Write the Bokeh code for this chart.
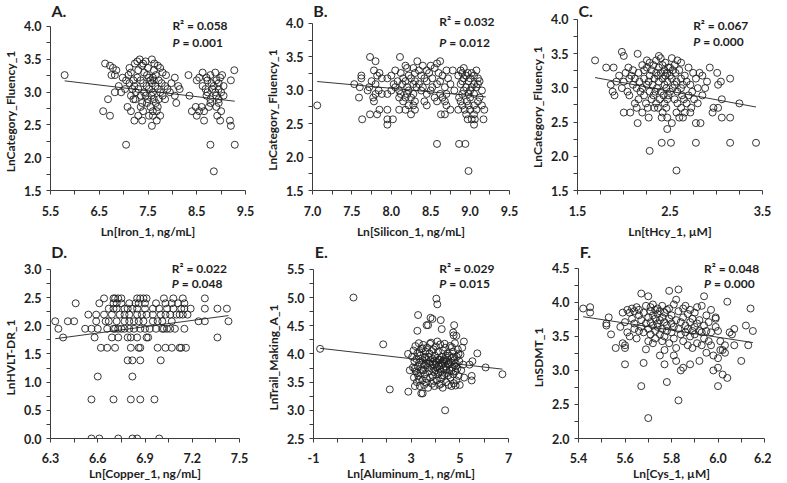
from bokeh.plotting import figure
from bokeh.layouts import row, column
from bokeh.models import Range1d, FixedTicker, PrintfTickFormatter, Label
from bokeh.embed import file_html
from bokeh.resources import INLINE

FONT = "Lato"
INK = "#1e1e1e"
NB = "\u00a0"

# ---------------- Panel A: Ln[Iron_1] vs LnCategory_Fluency_1 (bands of y) -------------
iron_bands = [
    (3.497, [7.33, 7.58]),
    (3.466, [7.28, 7.45]),
    (3.434, [6.62, 7.23, 7.40, 7.63]),
    (3.401, [6.72, 7.38, 7.70]),
    (3.367, [6.78, 7.12, 7.50, 7.75]),
    (3.332, [6.85, 7.30, 7.62, 9.27]),
    (3.296, [7.15, 7.42, 7.80, 8.62, 8.88]),
    (3.258, [5.79, 6.75, 6.82, 7.10, 7.48, 7.66, 7.87, 8.33, 8.78, 9.02]),
    (3.219, [6.98, 7.28, 7.52, 7.60, 8.05, 8.55, 8.70, 8.98]),
    (3.178, [7.05, 7.20, 7.35, 7.55, 7.62, 7.72, 8.50, 8.72, 8.90, 9.20]),
    (3.135, [7.12, 7.40, 7.58, 7.78, 7.98, 8.80, 8.95]),
    (3.091, [6.90, 7.22, 7.47, 7.65, 7.85, 8.12, 8.62, 8.85, 9.05]),
    (3.045, [7.03, 7.18, 7.30, 7.52, 7.70, 7.90, 8.15, 8.68, 8.82, 8.95]),
    (2.996, [6.82, 6.95, 7.25, 7.42, 7.60, 7.75, 7.95, 8.72, 8.88, 9.00]),
    (2.944, [7.15, 7.35, 7.45, 7.57, 7.80, 8.05, 8.35, 8.70, 8.90, 9.05]),
    (2.890, [6.68, 7.20, 7.24, 7.50, 7.62, 7.72, 7.85, 8.78, 8.95]),
    (2.833, [7.38, 7.48, 7.66, 8.08, 8.78, 8.95]),
    (2.773, [7.08, 7.35, 7.55, 7.70, 8.48, 8.60, 8.75, 8.90]),
    (2.708, [6.58, 7.15, 7.40, 7.60, 7.68, 8.40, 8.55, 8.65, 9.00]),
    (2.639, [6.72, 7.30, 7.52, 7.60, 7.75, 8.50, 8.92]),
    (2.565, [7.22, 7.38, 7.68, 8.65, 8.98, 9.18]),
    (2.485, [7.58, 9.20]),
    (2.197, [7.05, 8.78, 9.28]),
    (1.792, [8.85]),
]
iron_fit_x = [5.79, 9.28]
iron_fit_y = [3.17, 2.86]

# ---------------- Panel B: Ln[Silicon_1] -------------
silicon_bands = [
    (3.497, [7.73, 8.11]),
    (3.434, [7.80, 8.33, 8.62]),
    (3.401, [8.58]),
    (3.367, [8.18, 8.40, 8.50]),
    (3.332, [8.20, 8.28, 8.55, 8.92]),
    (3.296, [7.78, 8.05, 8.35, 8.45, 8.70, 8.78, 8.88, 9.08]),
    (3.258, [7.85, 8.12, 8.30, 8.48, 8.60, 8.90, 8.97, 9.02]),
    (3.219, [7.62, 7.82, 8.00, 8.22, 8.38, 8.65, 8.85, 8.95, 9.05]),
    (3.178, [7.62, 7.88, 7.95, 8.15, 8.25, 8.42, 8.52, 8.72, 8.92, 9.00, 9.10]),
    (3.135, [7.75, 8.08, 8.18, 8.30, 8.45, 8.62, 8.90, 8.98, 9.12]),
    (3.091, [7.53, 7.80, 8.03, 8.14, 8.28, 8.35, 8.58, 8.75, 8.88, 9.05, 9.10]),
    (3.045, [7.60, 7.72, 8.05, 8.20, 8.32, 8.40, 8.52, 8.68, 8.95, 9.02, 9.08]),
    (2.996, [7.70, 7.84, 8.00, 8.10, 8.22, 8.38, 8.50, 8.80, 8.92, 9.00, 9.15]),
    (2.944, [7.80, 7.88, 7.95, 8.12, 8.20, 8.28, 8.45, 8.62, 8.70, 8.90, 8.98, 9.05]),
    (2.890, [7.59, 7.77, 8.10, 8.18, 8.25, 8.55, 8.65, 8.86, 9.00, 9.12]),
    (2.833, [7.78, 8.15, 8.30, 8.42, 8.58, 8.68, 8.88, 8.96, 9.10]),
    (2.773, [7.06, 8.22, 8.28, 8.45, 8.70, 8.90, 8.98, 9.05, 9.15]),
    (2.708, [7.85, 7.95, 8.10, 8.18, 8.30, 8.75, 8.85, 8.93, 9.00, 9.08, 9.18]),
    (2.639, [7.73, 7.82, 8.25, 8.63, 8.68, 8.95, 9.05]),
    (2.565, [7.63, 7.95, 8.02, 8.97, 9.02, 9.06, 9.17]),
    (2.485, [7.95, 9.05]),
    (2.197, [8.58, 8.86, 8.94]),
    (1.792, [8.98]),
]
silicon_fit_x = [7.06, 9.20]
silicon_fit_y = [3.13, 2.90]

# ---------------- Panel C: Ln[tHcy_1] -------------
thcy_bands = [
    (3.526, [1.98]),
    (3.497, [2.15]),
    (3.466, [2.00, 2.38]),
    (3.434, [2.40, 2.52]),
    (3.401, [1.69, 2.25, 2.35, 2.58]),
    (3.367, [2.28, 2.45, 2.62]),
    (3.332, [2.20, 2.32, 2.42, 2.55]),
    (3.296, [1.81, 1.89, 2.05, 2.25, 2.38, 2.48, 2.50, 2.70, 2.93]),
    (3.258, [2.10, 2.22, 2.30, 2.44, 2.53, 2.60]),
    (3.219, [2.02, 2.16, 2.35, 2.40, 2.47, 2.56, 2.75, 2.82, 3.01]),
    (3.178, [1.95, 2.08, 2.28, 2.37, 2.45, 2.50, 2.66, 2.85]),
    (3.135, [2.06, 2.12, 2.22, 2.33, 2.42, 2.52, 2.62, 2.78, 3.15]),
    (3.091, [1.92, 2.00, 2.17, 2.27, 2.38, 2.47, 2.57, 2.68, 2.90, 3.05]),
    (3.045, [1.86, 2.10, 2.25, 2.31, 2.44, 2.55, 2.64, 2.72, 3.02]),
    (2.996, [1.98, 2.14, 2.20, 2.36, 2.46, 2.53, 2.62, 2.80, 2.88]),
    (2.944, [1.88, 2.04, 2.18, 2.28, 2.34, 2.40, 2.50, 2.58, 2.74]),
    (2.890, [1.90, 2.06, 2.22, 2.32, 2.43, 2.48, 2.63, 2.70, 2.85]),
    (2.833, [2.16, 2.30, 2.39, 2.47, 2.55, 2.65, 2.76, 3.06]),
    (2.773, [2.12, 2.24, 2.35, 2.44, 2.58, 2.68, 2.80, 3.25]),
    (2.708, [2.14, 2.26, 2.33, 2.37, 2.46, 2.62, 2.73, 2.97, 3.02]),
    (2.639, [2.00, 2.07, 2.20, 2.42, 2.57, 2.66, 2.72, 2.96]),
    (2.565, [2.27, 2.41, 2.47, 2.60, 2.64, 3.06, 3.15]),
    (2.485, [2.15, 2.52, 2.78, 2.83]),
    (2.398, [2.47]),
    (2.197, [2.41, 2.51, 2.78, 3.15, 3.43]),
    (2.079, [2.28]),
    (1.792, [2.57]),
]
thcy_fit_x = [1.69, 3.43]
thcy_fit_y = [3.15, 2.72]

# ---------------- Panel D: Ln[Copper_1] vs LnHVLT-DR_1 -------------
copper_bands = [
    (0.000, [6.56, 6.61, 6.73, 6.82, 6.85, 6.99]),
    (0.693, [6.56, 6.70, 6.81, 6.87, 6.96]),
    (1.099, [6.60, 6.82]),
    (1.386, [6.79, 6.82, 6.87, 7.00]),
    (1.609, [6.62, 6.66, 6.71, 6.81, 6.86, 6.87, 6.98, 7.03, 7.07, 7.12, 7.13, 7.16]),
    (1.792, [6.38, 6.58, 6.69, 6.73, 6.79, 6.81, 6.85, 6.91, 6.92, 7.36]),
    (1.946, [6.35, 6.52, 6.56, 6.60, 6.66, 6.70, 6.71, 6.73, 6.75, 6.77, 6.80, 6.83, 6.87,
             6.90, 6.93, 6.97, 7.01, 7.02, 7.04, 7.06, 7.09, 7.15]),
    (2.079, [6.33, 6.41, 6.45, 6.59, 6.65, 6.67, 6.72, 6.77, 6.80, 6.83, 6.86, 6.89, 6.95,
             6.98, 7.01, 7.07, 7.24, 7.28, 7.43]),
    (2.197, [6.54, 6.59, 6.64, 6.69, 6.74, 6.77, 6.80, 6.85, 6.88, 6.91, 6.95, 7.00, 7.03,
             7.06, 7.10, 7.12, 7.14, 7.17]),
    (2.303, [6.67, 6.70, 6.72, 6.77, 6.79, 6.82, 6.85, 6.90, 6.95, 6.99, 7.04, 7.08, 7.13,
             7.15, 7.19, 7.28, 7.36, 7.42]),
    (2.398, [6.46, 6.61, 6.70, 6.72, 6.75, 6.80, 6.84, 6.86, 6.90, 6.97, 7.03, 7.07, 7.11, 7.15]),
    (2.485, [6.64, 6.70, 6.71, 6.73, 6.75, 6.85, 6.87, 6.89, 6.91, 7.02, 7.08, 7.14, 7.28]),
]
copper_fit_x = [6.33, 7.43]
copper_fit_y = [1.77, 2.18]

# ---------------- Panel E: Ln[Aluminum_1] vs LnTrail_Making_A_1 -------------
aluminum_x = [
    -0.73, 0.64, 1.86, 2.13, 2.89, 2.88, 2.95, 3.42, 3.48, 4.40, 4.04, 4.08, 3.29, 3.80,
    3.88, 3.64, 3.70, 4.22, 4.26, 4.77, 4.73, 4.75, 4.86, 3.26, 5.17, 5.72, 6.06, 6.75,
    5.49, 5.49, 5.52, 5.40,
    3.05, 3.08, 3.10, 3.12, 3.14, 3.16, 3.18, 3.20, 3.22, 3.24, 3.26, 3.28, 3.30, 3.32,
    3.34, 3.36, 3.38, 3.40, 3.42, 3.44, 3.46, 3.48, 3.50, 3.52, 3.54, 3.56, 3.58, 3.60,
    3.62, 3.64, 3.66, 3.68, 3.70, 3.72, 3.74, 3.76, 3.78, 3.80, 3.82, 3.84, 3.86, 3.88,
    3.90, 3.92, 3.94, 3.96, 3.98, 4.00, 4.02, 4.04, 4.06, 4.08, 4.10, 4.12, 4.14, 4.16,
    4.18, 4.20, 4.22, 4.24, 4.26, 4.28, 4.30, 4.32, 4.34, 4.36, 4.38, 4.40, 4.42, 4.44,
    4.46, 4.48, 4.50, 4.52, 4.54, 4.56, 4.58, 4.60, 4.62, 4.64, 4.66, 4.68, 4.70, 4.72,
    4.74, 4.76, 4.78, 4.80, 4.82, 4.84, 4.86, 4.88, 4.90, 4.92, 4.95, 4.98, 5.00, 5.03,
    5.06, 5.10, 5.14, 5.18,
    3.15, 3.25, 3.35, 3.45, 3.55, 3.65, 3.75, 3.85, 3.95, 4.05, 4.15, 4.25, 4.35, 4.45,
    4.55, 4.65, 4.75, 4.85, 4.95, 3.33, 3.63, 3.93, 4.23, 4.53, 4.83, 3.48, 3.78, 4.08,
    4.38, 4.68, 3.58, 3.88, 4.18, 4.48, 4.78, 4.28, 4.33, 4.43, 4.13, 3.98,
]
trail_y = [
    4.09, 5.00, 4.17, 3.37, 3.33, 4.00, 3.71, 3.30, 3.30, 3.00, 4.98, 4.88, 4.69, 4.64,
    4.62, 4.51, 4.51, 4.60, 4.44, 4.51, 4.38, 4.33, 4.32, 4.41, 4.22, 4.01, 3.76, 3.64,
    3.53, 3.61, 3.87, 3.81,
    3.95, 3.76, 4.06, 3.58, 3.87, 3.43, 4.14, 3.69, 3.91, 3.50, 4.01, 3.78, 3.61, 4.19,
    3.85, 3.43, 3.97, 3.66, 4.09, 3.81, 3.53, 3.89, 4.16, 3.71, 3.45, 3.93, 3.64, 4.04,
    3.83, 3.56, 4.11, 3.76, 3.40, 3.95, 3.69, 4.01, 3.58, 3.87, 4.20, 3.74, 3.47, 3.91,
    3.61, 4.08, 3.81, 3.43, 3.97, 3.71, 4.13, 3.85, 3.53, 3.93, 3.64, 4.04, 3.78, 3.45,
    3.89, 4.17, 3.69, 3.56, 3.95, 3.83, 3.40, 4.06, 3.74, 3.61, 3.91, 4.11, 3.78, 3.50,
    3.87, 3.66, 4.01, 3.81, 3.45, 3.97, 3.71, 4.14, 3.58, 3.85, 3.43, 3.93, 3.76, 4.04,
    3.64, 3.48, 3.89, 4.19, 3.69, 3.83, 3.53, 3.95, 3.74, 4.08, 3.61, 3.87, 3.45, 3.99,
    3.71, 4.11, 3.81, 3.58,
    3.74, 3.66, 4.03, 3.72, 3.80, 3.89, 3.83, 4.05, 3.68, 3.76, 3.90, 3.80, 3.86, 3.72,
    3.84, 3.70, 3.95, 3.78, 4.00, 3.55, 3.49, 3.52, 3.47, 3.62, 3.44, 4.10, 4.18, 4.22,
    4.18, 4.12, 3.95, 3.82, 3.73, 3.93, 3.80, 3.62, 3.88, 3.97, 3.67, 3.88,
]
aluminum_fit_x = [-0.73, 6.75]
aluminum_fit_y = [4.10, 3.73]

# ---------------- Panel F: Ln[Cys_1] vs LnSDMT_1 -------------
cys_x = [
    5.42, 5.45, 5.45, 5.52, 5.52, 5.53, 5.54, 5.56, 5.58, 5.59, 5.60, 5.60, 5.60, 5.59,
    5.61, 5.60, 5.61, 5.62, 5.62, 5.63, 5.63, 5.64, 5.64, 5.64, 5.65, 5.65, 5.66, 5.66,
    5.66, 5.67, 5.67, 5.67, 5.67, 5.68, 5.68, 5.68, 5.69, 5.69, 5.69, 5.70, 5.70, 5.70,
    5.70, 5.70, 5.71, 5.71, 5.71, 5.71, 5.72, 5.72, 5.72, 5.72, 5.73, 5.73, 5.73, 5.73,
    5.74, 5.74, 5.74, 5.74, 5.75, 5.75, 5.75, 5.75, 5.76, 5.76, 5.76, 5.76, 5.77, 5.77,
    5.77, 5.77, 5.77, 5.78, 5.78, 5.78, 5.78, 5.79, 5.79, 5.79, 5.79, 5.80, 5.80, 5.80,
    5.81, 5.81, 5.81, 5.81, 5.82, 5.82, 5.82, 5.82, 5.83, 5.83, 5.83, 5.83, 5.84, 5.84,
    5.84, 5.85, 5.85, 5.85, 5.85, 5.86, 5.86, 5.86, 5.87, 5.87, 5.87, 5.88, 5.88, 5.88,
    5.88, 5.89, 5.89, 5.89, 5.90, 5.90, 5.90, 5.91, 5.91, 5.91, 5.92, 5.92, 5.92, 5.93,
    5.93, 5.93, 5.94, 5.94, 5.94, 5.95, 5.95, 5.95,
    5.96, 5.96, 5.97, 5.97, 5.97, 5.98, 5.98, 5.99, 5.99, 5.99, 6.00, 6.00, 6.00, 6.00,
    6.01, 6.01, 6.02, 6.02, 6.03, 6.03, 6.04, 6.04, 6.05, 6.06, 6.07, 6.07, 6.10, 6.12,
    6.13, 6.14, 6.15,
]
sdmt_y = [
    3.91, 3.93, 3.85, 3.69, 3.66, 3.78, 3.53, 3.33, 3.64, 3.40, 3.37, 3.33, 3.09, 3.85,
    3.89, 3.71, 3.56, 3.85, 3.50, 3.76, 3.91, 3.87, 3.69, 3.61, 3.93, 3.47, 3.81, 3.58,
    3.89, 3.74, 3.64, 4.13, 2.77, 3.11, 3.85, 3.56, 3.31, 3.69, 3.95, 3.78, 3.61, 4.09,
    2.30, 3.43, 3.87, 3.71, 3.53, 3.93, 3.66, 3.81, 3.40, 3.97, 3.58, 3.76, 3.89, 3.47,
    3.69, 3.83, 3.91, 3.64, 3.74, 3.53, 3.87, 3.22, 3.78, 3.61, 3.95, 3.43, 3.71, 3.85,
    3.50, 3.09, 3.30, 3.66, 3.89, 2.83, 3.58, 4.17, 3.76, 3.40, 3.91, 3.69, 3.56, 3.81,
    3.64, 3.22, 3.97, 3.47, 3.74, 4.04, 3.33, 3.14, 4.19, 3.61, 3.87, 2.56, 3.53, 3.00,
    3.71, 3.91, 3.43, 3.04, 3.78, 3.66, 3.56, 3.95, 3.61, 3.83, 3.37, 3.71, 3.50, 3.09,
    3.89, 3.58, 3.76, 3.33, 3.64, 3.85, 3.53, 3.69, 3.93, 3.40, 3.58, 3.74, 3.14, 3.95,
    3.56, 3.37, 3.66, 4.09, 3.47, 3.81, 3.58, 3.26,
    3.71, 3.43, 3.56, 3.89, 3.37, 3.00, 3.22, 3.78, 3.76, 3.64, 3.58, 3.18, 3.04, 2.77,
    3.43, 3.30, 3.30, 2.94, 3.37, 3.26, 4.01, 2.89, 3.56, 3.53, 3.61, 3.37, 3.14, 3.66,
    3.37, 3.91, 3.58,
]
cys_fit_x = [5.42, 6.15]
cys_fit_y = [3.79, 3.41]

# ---------------- ticks / labels -------------
a_xticks, a_xminor = [5.5, 6.5, 7.5, 8.5, 9.5], [6.0, 7.0, 8.0, 9.0]
b_xticks, b_xminor = [7.0, 7.5, 8.0, 8.5, 9.0, 9.5], [7.25, 7.75, 8.25, 8.75, 9.25]
c_xticks, c_xminor = [1.5, 2.5, 3.5], [1.75, 2.0, 2.25, 2.75, 3.0, 3.25]
fluency_yticks, fluency_yminor = [1.5, 2.0, 2.5, 3.0, 3.5, 4.0], [1.75, 2.25, 2.75, 3.25, 3.75]
d_xticks, d_xminor = [6.3, 6.6, 6.9, 7.2, 7.5], [6.45, 6.75, 7.05, 7.35]
d_yticks, d_yminor = [0.0, 0.5, 1.0, 1.5, 2.0, 2.5, 3.0], [0.25, 0.75, 1.25, 1.75, 2.25, 2.75]
e_xticks, e_xminor = [-1, 1, 3, 5, 7], [0, 2, 4, 6]
e_yticks, e_yminor = [2.5, 3.0, 3.5, 4.0, 4.5, 5.0, 5.5], [2.75, 3.25, 3.75, 4.25, 4.75, 5.25]
f_xticks, f_xminor = [5.4, 5.6, 5.8, 6.0, 6.2], [5.5, 5.7, 5.9, 6.1]
f_yticks, f_yminor = [2.0, 2.5, 3.0, 3.5, 4.0, 4.5], [2.25, 2.75, 3.25, 3.75, 4.25]

r2_values = ["0.058", "0.032", "0.067", "0.022", "0.029", "0.048"]
p_values = ["0.001", "0.012", "0.000", "0.048", "0.015", "0.000"]


def unband(bands):
    xs, ys = [], []
    for yv, xl in bands:
        for xv in xl:
            xs.append(xv)
            ys.append(yv)
    return xs, ys


def style_axis(ax, ticks, minor, fmt, label, bounds=None, lab_standoff=5, title_standoff=3):
    ax.ticker = FixedTicker(ticks=ticks, minor_ticks=minor)
    ax.formatter = PrintfTickFormatter(format=fmt)
    if bounds is not None:
        ax.bounds = bounds
    ax.axis_label = label
    ax.axis_line_color = "#3c3c3c"
    ax.axis_line_width = 1
    ax.major_tick_line_color = "#3c3c3c"
    ax.minor_tick_line_color = "#3c3c3c"
    ax.major_tick_in = 0
    ax.major_tick_out = 4
    ax.minor_tick_in = 0
    ax.minor_tick_out = 4
    ax.major_label_standoff = lab_standoff
    ax.axis_label_standoff = title_standoff
    ax.major_label_text_font = FONT
    ax.major_label_text_font_style = "bold"
    ax.major_label_text_font_size = "12.5px"
    ax.major_label_text_color = INK
    ax.axis_label_text_font = FONT
    ax.axis_label_text_font_style = "bold"
    ax.axis_label_text_font_size = "12px"
    ax.axis_label_text_color = INK


def panel(letter, xs, ys, fx, fy, xr, yr, ybounds, xt, xm, yt, ym, xfmt, yfmt, xlabel, ylabel,
          r2, pv, width, height, borders, letter_pos, stat_pos, stat_gap, xstand, ypad):
    bl, br, bt, bb = borders
    p = figure(width=width, height=height, x_range=Range1d(*xr), y_range=Range1d(*yr),
               output_backend="svg", toolbar_location=None,
               min_border_left=bl, min_border_right=br, min_border_top=bt, min_border_bottom=bb)
    p.outline_line_color = None
    p.grid.visible = False
    style_axis(p.xaxis[0], xt, xm, xfmt, xlabel, None, xstand[0], xstand[1])
    # trailing no-break spaces shift the rotated title down to centre it on the drawn axis
    style_axis(p.yaxis[0], yt, ym, yfmt, ylabel + NB * ypad, ybounds, 5, 3)
    p.scatter(xs, ys, marker="circle", size=7, fill_color=None,
              line_color="#202020", line_width=0.9)
    p.line(fx, fy, line_color="#202020", line_width=0.9)
    p.add_layout(Label(x=letter_pos[0], y=letter_pos[1], text=letter, text_font=FONT,
                       text_font_style="bold", text_font_size="16px", text_color=INK,
                       text_baseline="middle", text_align="left"))
    sx, sy_r, sy_p = stat_pos
    p.add_layout(Label(x=sx, y=sy_r, text="R\u00b2 = " + r2, text_font=FONT,
                       text_font_style="bold", text_font_size="12px", text_color=INK,
                       text_baseline="middle", text_align="left"))
    p.add_layout(Label(x=sx, y=sy_p, text="P", text_font=FONT,
                       text_font_style="bold italic", text_font_size="12px", text_color=INK,
                       text_baseline="middle", text_align="left"))
    p.add_layout(Label(x=sx, y=sy_p, x_offset=stat_gap, text="= " + pv, text_font=FONT,
                       text_font_style="bold", text_font_size="12px", text_color=INK,
                       text_baseline="middle", text_align="left"))
    return p


ax_, ay_ = unband(iron_bands)
bx_, by_ = unband(silicon_bands)
cx_, cy_ = unband(thcy_bands)
dx_, dy_ = unband(copper_bands)

TOP = (11, 5)
BOT = (10, 0)

pa = panel("A.", ax_, ay_, iron_fit_x, iron_fit_y, (5.5, 9.5), (1.5, 4.394), (1.5, 4.0),
           a_xticks, a_xminor, fluency_yticks, fluency_yminor, "%.1f", "%.1f",
           "Ln[Iron_1, ng/mL]", "LnCategory_Fluency_1", r2_values[0], p_values[0],
           262, 241, (42, 17, 0, 50), (5.52, 4.242), (8.0, 4.015, 3.76), 10, TOP, 11)
pb = panel("B.", bx_, by_, silicon_fit_x, silicon_fit_y, (7.0, 9.5), (1.5, 4.342), (1.5, 4.0),
           b_xticks, b_xminor, fluency_yticks, fluency_yminor, "%.1f", "%.1f",
           "Ln[Silicon_1, ng/mL]", "LnCategory_Fluency_1", r2_values[1], p_values[1],
           260, 241, (50, 13, 0, 50), (7.01, 4.193), (8.61, 4.03, 3.72), 10, TOP, 10)
pc = panel("C.", cx_, cy_, thcy_fit_x, thcy_fit_y, (1.5, 3.5), (1.5, 4.276), (1.5, 4.0),
           c_xticks, c_xminor, fluency_yticks, fluency_yminor, "%.1f", "%.1f",
           "Ln[tHcy_1, \u00b5M]", "LnCategory_Fluency_1", r2_values[2], p_values[2],
           249, 241, (55, 9, 0, 50), (1.51, 4.131), (2.75, 3.91, 3.67), 10, TOP, 8)
pd_ = panel("D.", dx_, dy_, copper_fit_x, copper_fit_y, (6.3, 7.5), (0.0, 3.494), (0.0, 3.0),
            d_xticks, d_xminor, d_yticks, d_yminor, "%.1f", "%.1f",
            "Ln[Copper_1, ng/mL]", "LnHVLT-DR_1", r2_values[3], p_values[3],
            262, 242, (42, 23, 0, 44), (6.305, 3.318), (7.07, 3.018, 2.753), 10, BOT, 12)
pe = panel("E.", aluminum_x, trail_y, aluminum_fit_x, aluminum_fit_y, (-1, 7), (2.5, 5.994), (2.5, 5.5),
           e_xticks, e_xminor, e_yticks, e_yminor, "%d", "%.1f",
           "Ln[Aluminum_1, ng/mL]", "LnTrail_Making_A_1", r2_values[4], p_values[4],
           260, 242, (51, 14, 0, 44), (-0.95, 5.818), (4.16, 5.518, 5.253), 10, BOT, 12)
pf = panel("F.", cys_x, sdmt_y, cys_fit_x, cys_fit_y, (5.4, 6.2), (2.0, 4.895), (2.0, 4.5),
           f_xticks, f_xminor, f_yticks, f_yminor, "%.1f", "%.1f",
           "Ln[Cys_1, \u00b5M]", "LnSDMT_1", r2_values[5], p_values[5],
           249, 242, (56, 7, 0, 44), (5.405, 4.749), (5.94, 4.5, 4.281), 10, BOT, 12)

layout = column(row(pa, pb, pc), row(pd_, pe, pf))
open("out.html", "w").write(file_html(layout, INLINE))
